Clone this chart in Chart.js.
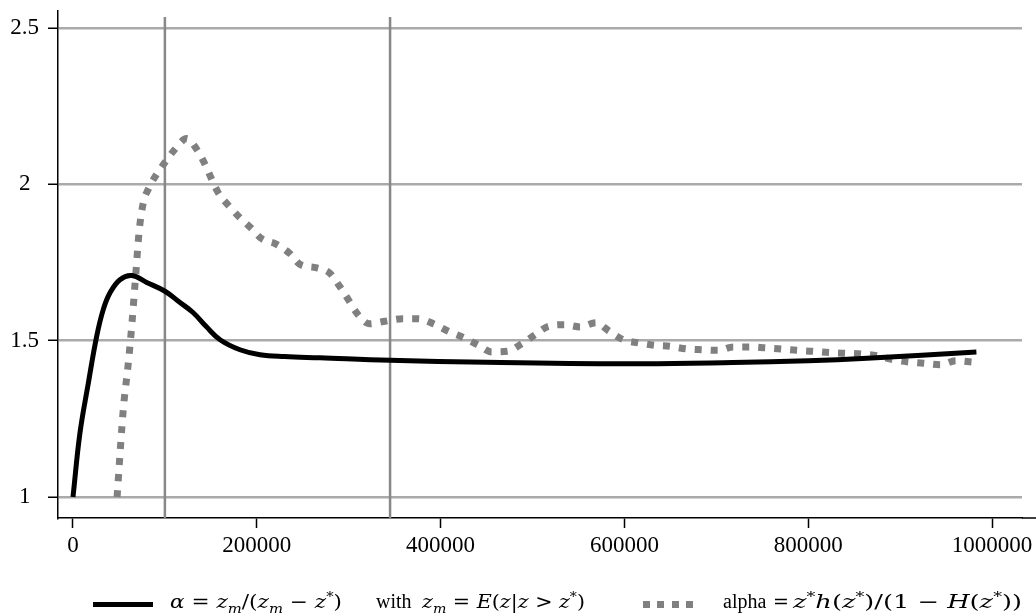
<!DOCTYPE html>
<html>
<head>
<meta charset="utf-8">
<script src="https://cdn.jsdelivr.net/npm/chart.js@4.4.1/dist/chart.umd.min.js"></script>
<style>
  body { margin: 0; background: #fff; }
  #wrap { position: relative; width: 1036px; height: 614px; overflow: hidden; }
  .lg { position: absolute; top: 591px; font-family: "Liberation Serif", serif; font-size: 20px; line-height: 20px; white-space: nowrap; color: #000; }
  .m { font-family: "DejaVu Serif", serif; font-size: 19px; }
  .m i { font-style: italic; }
  .m sub, .m sup { font-size: 13px; line-height: 0; }
</style>
</head>
<body>
<div id="wrap">
  <canvas id="chart" width="1036" height="614"></canvas>
  <div class="lg" style="left:93px; top:602px; width:60px; height:5px; background:#000;"></div>
  <div class="lg m" data-w="172" style="left:170px;"><i>α</i> = <i>z</i><sub><i>m</i></sub>/(<i>z</i><sub><i>m</i></sub> − <i>z</i><sup>*</sup>)</div>
  <div class="lg" style="left:376px;">with</div>
  <div class="lg m" data-w="163" style="left:422px;"><i>z</i><sub><i>m</i></sub> = <i>E</i>(<i>z</i>|<i>z</i> &gt; <i>z</i><sup>*</sup>)</div>
  <div class="lg" style="left:643px; top:601px; width:51px; height:7px; background:repeating-linear-gradient(to right, #808080 0 7px, transparent 7px 14.3px);"></div>
  <div class="lg" style="left:723px;">alpha</div>
  <div class="lg m" style="left:773px;">=</div>
  <div class="lg m" data-w="229" style="left:793px;"><i>z</i><sup>*</sup><i>h</i>(<i>z</i><sup>*</sup>)/(1 − <i>H</i>(<i>z</i><sup>*</sup>))</div>
</div>
<script>
// solid: alpha from conditional mean
const solidX = [0, 7600, 16700, 25800, 33000, 40300, 51100, 64000, 80200, 100100, 115000, 130600, 145000, 160000, 181700, 203500, 230000, 268800, 345000, 450000, 617000, 718000, 800000, 864000, 983000];
const solidY = [1.0, 1.205, 1.364, 1.514, 1.60, 1.653, 1.695, 1.708, 1.686, 1.658, 1.625, 1.59, 1.545, 1.503, 1.471, 1.455, 1.449, 1.445, 1.437, 1.431, 1.426, 1.43, 1.436, 1.444, 1.464];

// dotted: alpha from hazard
const dotX = [48000, 54700, 60200, 64000, 68000, 72000, 76500, 81900, 91000, 100100, 111000, 123700, 134600, 143600, 150900, 158100, 169000, 181700, 194500, 205300, 221600, 236100, 247000, 265200, 279700, 290500, 299600, 309400, 322400, 339500, 358800, 375700, 392100, 408400, 424000, 440000, 455600, 472600, 488200, 502700, 517200, 534600, 551700, 569100, 583600, 598800, 615100, 633300, 649600, 667000, 684100, 702200, 718500, 735900, 753000, 771200, 787500, 805600, 823000, 840100, 858200, 874500, 891900, 908900, 925300, 943400, 960800, 977900];
const dotY = [1.0, 1.279, 1.428, 1.55, 1.70, 1.85, 1.941, 1.984, 2.032, 2.07, 2.112, 2.146, 2.112, 2.064, 2.016, 1.973, 1.933, 1.893, 1.858, 1.826, 1.808, 1.778, 1.744, 1.733, 1.715, 1.672, 1.631, 1.586, 1.554, 1.562, 1.57, 1.57, 1.554, 1.53, 1.511, 1.487, 1.464, 1.466, 1.49, 1.519, 1.546, 1.551, 1.544, 1.557, 1.53, 1.503, 1.493, 1.485, 1.482, 1.474, 1.471, 1.469, 1.48, 1.48, 1.477, 1.473, 1.469, 1.466, 1.462, 1.46, 1.457, 1.452, 1.439, 1.432, 1.428, 1.423, 1.436, 1.432];

const xTicks = [0, 200000, 400000, 600000, 800000, 1000000];
const yTicks = [1, 1.5, 2, 2.5];
const refLines = [100000, 345000];

const toPts = (xs, ys) => xs.map((x, i) => ({ x: x, y: ys[i] }));

// stretch the math bits of the legend to the widths they take in the original
document.querySelectorAll("[data-w]").forEach(el => {
  const w = el.getBoundingClientRect().width;
  el.style.transformOrigin = "0 0";
  el.style.transform = "scaleX(" + (el.dataset.w / w) + ")";
});

const refLinePlugin = {
  id: "refLines",
  beforeDatasetsDraw(chart) {
    const { ctx, chartArea, scales } = chart;
    ctx.save();
    ctx.strokeStyle = "#888";
    ctx.lineWidth = 2.5;
    refLines.forEach(v => {
      const px = scales.x.getPixelForValue(v);
      ctx.beginPath();
      ctx.moveTo(px, chartArea.top + 6);
      ctx.lineTo(px, chartArea.bottom);
      ctx.stroke();
    });
    ctx.restore();
  },
  afterDraw(chart) {
    // axis line runs on to the right edge
    const { ctx, chartArea } = chart;
    ctx.save();
    ctx.strokeStyle = "#000";
    ctx.lineWidth = 1.5;
    ctx.beginPath();
    ctx.moveTo(chartArea.right, chartArea.bottom);
    ctx.lineTo(chart.width, chartArea.bottom);
    ctx.stroke();
    ctx.restore();
  }
};

const tickFont = { family: "'Liberation Serif', serif", size: 23 };

new Chart(document.getElementById("chart"), {
  type: "line",
  data: {
    datasets: [
      {
        label: "alpha = zm/(zm - z*)",
        data: toPts(solidX, solidY),
        borderColor: "#000",
        borderWidth: 5,
        pointRadius: 0,
        tension: 0.4,
        fill: false
      },
      {
        label: "alpha = z*h(z*)/(1-H(z*))",
        data: toPts(dotX, dotY),
        borderColor: "#808080",
        borderWidth: 7,
        borderDash: [7, 9],
        borderCapStyle: "butt",
        pointRadius: 0,
        cubicInterpolationMode: "monotone",
        fill: false
      }
    ]
  },
  options: {
    responsive: false,
    animation: false,
    layout: { padding: { top: 11, right: 14, bottom: 46, left: 0 } },
    plugins: { legend: { display: false }, tooltip: { enabled: false } },
    scales: {
      x: {
        type: "linear",
        min: -16300,
        max: 1032600,
        afterBuildTicks: s => { s.ticks = xTicks.map(v => ({ value: v })); },
        afterFit: s => { s.height = 50; s.paddingLeft = 0; s.paddingRight = 0; },
        ticks: { font: tickFont, color: "#000", padding: 4, maxRotation: 0, autoSkip: false, callback: v => String(v) },
        grid: { drawOnChartArea: false, drawTicks: true, tickLength: 10, tickColor: "#000", tickWidth: 1.5 },
        border: { color: "#000", width: 1.5 }
      },
      y: {
        min: 0.933,
        max: 2.554,
        afterBuildTicks: s => { s.ticks = yTicks.map(v => ({ value: v })); },
        afterFit: s => { s.width = 58; s.paddingTop = 0; s.paddingBottom = 0; },
        ticks: { font: tickFont, color: "#000", padding: 9, crossAlign: "center", callback: v => String(v) },
        grid: { color: "#aaa", lineWidth: 2.5, drawTicks: true, tickLength: 10, tickColor: "#000", tickWidth: 1.5 },
        border: { color: "#000", width: 1.5 }
      }
    }
  },
  plugins: [refLinePlugin]
});
</script>
</body>
</html>
